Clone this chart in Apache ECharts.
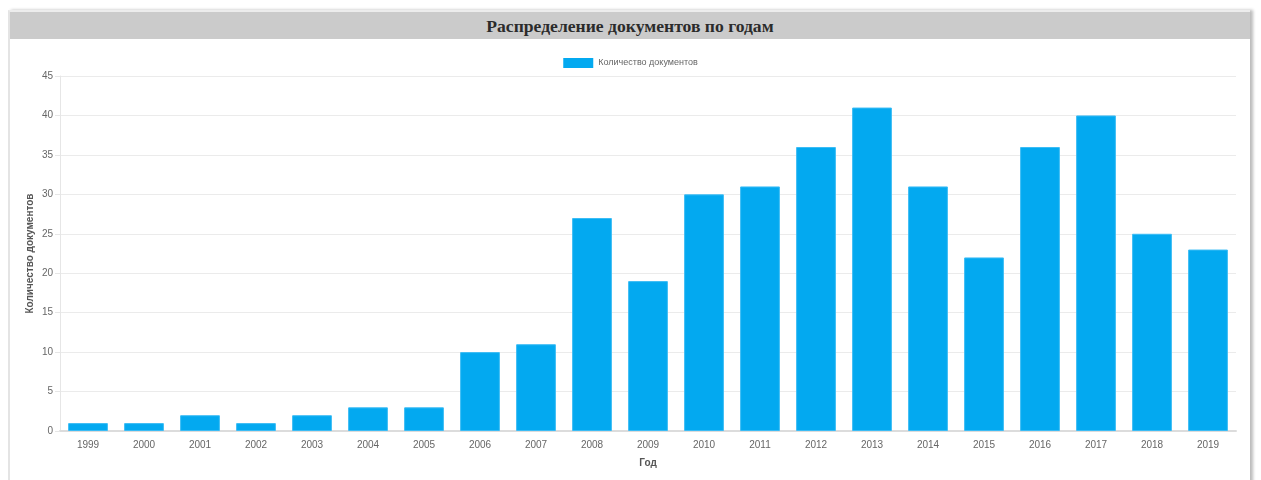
<!DOCTYPE html>
<html>
<head>
<meta charset="utf-8">
<script src="https://cdn.jsdelivr.net/npm/echarts@6/dist/echarts.min.js"></script>
<style>
  html, body { margin: 0; padding: 0; background: #fff; }
  #panel {
    position: absolute; left: 8px; top: 10px; width: 1240px; height: 480px;
    border-left: 2px solid #e4e4e4; border-top: 2px solid #ececec;
    box-shadow: 3px 0 3px #bbb;
    background: #fff;
  }
  #head {
    height: 27px; background: #cbcbcb; text-align: center;
    font-family: "Liberation Serif", "DejaVu Serif", serif; font-weight: bold;
    font-size: 17.6px; line-height: 29px; color: #2b2b2b;
  }
  #chart { position: absolute; left: 0; top: 0; width: 1261px; height: 480px; }
</style>
</head>
<body>
<div id="panel"><div id="head">Распределение документов по годам</div></div>
<div id="chart"></div>
<script>
var years = ['1999', '2000', '2001', '2002', '2003', '2004', '2005', '2006', '2007', '2008', '2009',
  '2010', '2011', '2012', '2013', '2014', '2015', '2016', '2017', '2018', '2019'];
var counts = [1, 1, 2, 1, 2, 3, 3, 10, 11, 27, 19, 30, 31, 36, 41, 31, 22, 36, 40, 25, 23];
var seriesName = 'Количество документов';
var xName = 'Год';
var yName = 'Количество документов';

var myChart = echarts.init(document.getElementById('chart'));
var font = '"Liberation Sans", Arial, sans-serif';
var option = {
  animation: false,
  textStyle: { fontFamily: font },
  legend: {
    top: 53,
    left: 'center',
    itemWidth: 30,
    itemHeight: 10,
    itemGap: 5,
    icon: 'rect',
    itemStyle: { borderWidth: 0 },
    textStyle: { color: '#666', fontSize: 9, fontFamily: font },
    data: [seriesName]
  },
  grid: { left: 60, right: 25, top: 76, bottom: 49, containLabel: false },
  xAxis: {
    type: 'category',
    data: years,
    name: xName,
    nameLocation: 'middle',
    nameGap: 27,
    nameTextStyle: { color: '#555', fontSize: 10, fontWeight: 'bold' },
    axisLine: { lineStyle: { color: '#dcdcdc', width: 2 } },
    axisTick: { show: false },
    axisLabel: { color: '#666', fontSize: 10, margin: 9 },
    splitLine: { show: false }
  },
  yAxis: {
    type: 'value',
    min: 0,
    max: 45,
    interval: 5,
    name: yName,
    nameLocation: 'middle',
    nameRotate: 90,
    nameGap: 25,
    nameMoveOverlap: false,
    nameTextStyle: { color: '#555', fontSize: 10, fontWeight: 'bold' },
    axisLine: { show: true, lineStyle: { color: '#e6e6e6' } },
    axisTick: { show: true, length: 5, lineStyle: { color: '#e6e6e6' } },
    axisLabel: { color: '#666', fontSize: 10, margin: 7 },
    splitLine: { lineStyle: { color: '#ebebeb' } }
  },
  series: [
    {
      name: seriesName,
      type: 'bar',
      data: counts,
      barWidth: '71%',
      itemStyle: { color: '#03a9f0', borderColor: '#3bbcf5', borderWidth: 1 }
    }
  ]
};
myChart.setOption(option);
</script>
</body>
</html>
